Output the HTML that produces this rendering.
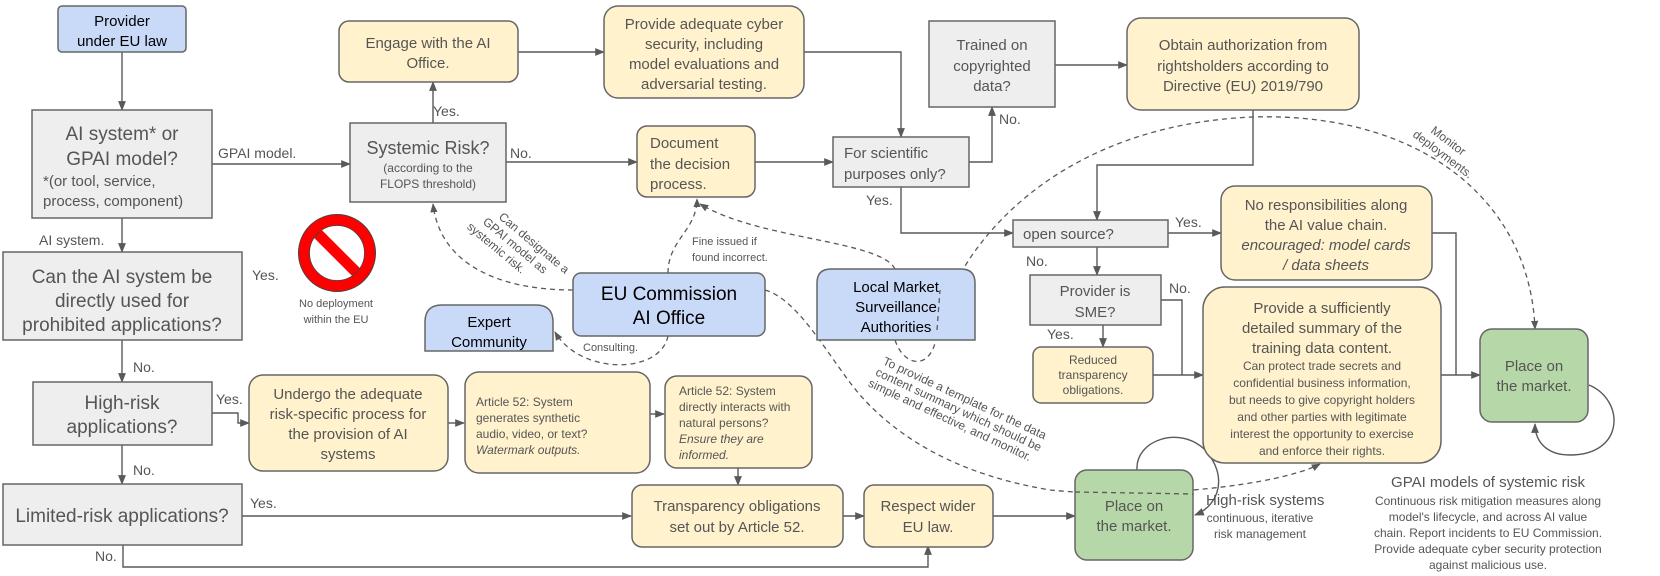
<!DOCTYPE html>
<html><head><meta charset="utf-8"><style>
html,body{margin:0;padding:0;background:#fff}
svg{display:block;font-family:"Liberation Sans",sans-serif}
.g{fill:#eeeeee;stroke:#666;stroke-width:1.5}
.y{fill:#fff2cc;stroke:#666;stroke-width:1.5}
.b{fill:#c9daf8;stroke:#666;stroke-width:1.5}
.gr{fill:#b6d7a8;stroke:#666;stroke-width:1.5}
.l{fill:none;stroke:#595959;stroke-width:1.4}
.d{fill:none;stroke:#595959;stroke-width:1.3;stroke-dasharray:5,4}
text{fill:#555}
.k{fill:#000}
</style></head><body>
<svg width="1660" height="576" viewBox="0 0 1660 576" xmlns="http://www.w3.org/2000/svg">
<defs><marker id="a" viewBox="0 0 10 10" refX="9" refY="5" markerWidth="7" markerHeight="7" orient="auto"><path d="M0,1 L10,5 L0,9 z" fill="#595959"/></marker></defs>

<!-- connectors -->
<g class="l" marker-end="url(#a)">
<path d="M122,52 V110"/>
<path d="M212,164 H350"/>
<path d="M122,218 V252"/>
<path d="M122,340 V382"/>
<path d="M122,445 V484"/>
<path d="M212,413 H238 V423 H249"/>
<path d="M448,423 H464"/>
<path d="M650,414 H664"/>
<path d="M738,468 V485"/>
<path d="M242,516 H631"/>
<path d="M123,545 V567 H928 V546"/>
<path d="M843,516 H864"/>
<path d="M993,516 H1075"/>
<path d="M433,123 V82"/>
<path d="M506,162 H637"/>
<path d="M518,52 H604"/>
<path d="M804,52 H901 V137"/>
<path d="M755,162 H833"/>
<path d="M969,162 H992 V107"/>
<path d="M901,187 V233 H1013"/>
<path d="M1253,110 V165 H1097 V220"/>
<path d="M1055,65 H1127"/>
<path d="M1168,233 H1221"/>
<path d="M1097,247 V275"/>
<path d="M1103,325 V347"/>
<path d="M1153,375 H1203"/>
<path d="M1441,375 H1480"/>
<path d="M1589,385 C1625,400 1625,455 1570,455 C1545,455 1535,440 1535,424"/>
<path d="M1137,470 C1135,440 1180,425 1205,450 C1228,475 1220,505 1195,515"/>
</g>
<g class="l">
<path d="M1161,300 H1182 V375"/>
<path d="M1432,233 H1456 V375"/>
</g>
<g class="d" marker-end="url(#a)">
<path d="M573,290 C500,290 440,265 433,204"/>
<path d="M668,273 C668,240 697,230 697,199"/>
<path d="M895,269 C880,240 760,240 700,204"/>
<path d="M668,336 C660,375 580,375 555,332"/>
<path d="M765,290 C800,300 830,360 860,395 C900,440 960,475 1050,490 C1150,500 1280,485 1320,464"/>
<path d="M895,340 C905,370 935,370 937,330 C960,240 1060,125 1253,117 C1420,112 1530,200 1535,329"/>
</g>

<!-- nodes -->
<rect class="b" x="58" y="6" width="128" height="46" rx="4"/>
<text class="k" font-size="15" text-anchor="middle"><tspan x="122" y="26">Provider</tspan><tspan x="122" y="46">under EU law</tspan></text>

<rect class="g" x="32" y="110" width="180" height="108"/>
<text font-size="19" text-anchor="middle"><tspan x="122" y="140">AI system* or</tspan><tspan x="122" y="165">GPAI model?</tspan></text>
<text font-size="15"><tspan x="43" y="186">*(or tool, service,</tspan><tspan x="43" y="206">process, component)</tspan></text>

<rect class="g" x="3" y="252" width="239" height="88"/>
<text font-size="19" text-anchor="middle"><tspan x="122" y="283">Can the AI system be</tspan><tspan x="122" y="307">directly used for</tspan><tspan x="122" y="331">prohibited applications?</tspan></text>

<rect class="g" x="33" y="382" width="179" height="63"/>
<text font-size="19" text-anchor="middle"><tspan x="122" y="409">High-risk</tspan><tspan x="122" y="433">applications?</tspan></text>

<rect class="g" x="3" y="484" width="239" height="61"/>
<text font-size="19" text-anchor="middle" x="122" y="522">Limited-risk applications?</text>

<rect class="y" x="339" y="21" width="179" height="61" rx="10"/>
<text font-size="15" text-anchor="middle"><tspan x="428" y="48">Engage with the AI</tspan><tspan x="428" y="68">Office.</tspan></text>

<rect class="g" x="350" y="123" width="156" height="79"/>
<text font-size="18" text-anchor="middle" x="428" y="154">Systemic Risk?</text>
<text font-size="12" text-anchor="middle"><tspan x="428" y="172">(according to the</tspan><tspan x="428" y="188">FLOPS threshold)</tspan></text>

<rect class="y" x="604" y="6" width="200" height="92" rx="14"/>
<text font-size="15" text-anchor="middle"><tspan x="704" y="29">Provide adequate cyber</tspan><tspan x="704" y="49">security, including</tspan><tspan x="704" y="69">model evaluations and</tspan><tspan x="704" y="89">adversarial testing.</tspan></text>

<rect class="y" x="637" y="126" width="118" height="71" rx="10"/>
<text font-size="15"><tspan x="650" y="148">Document</tspan><tspan x="650" y="169">the decision</tspan><tspan x="650" y="189">process.</tspan></text>

<rect class="g" x="833" y="137" width="136" height="50"/>
<text font-size="15"><tspan x="844" y="158">For scientific</tspan><tspan x="844" y="179">purposes only?</tspan></text>

<rect class="g" x="929" y="21" width="126" height="86"/>
<text font-size="15" text-anchor="middle"><tspan x="992" y="50">Trained on</tspan><tspan x="992" y="71">copyrighted</tspan><tspan x="992" y="91">data?</tspan></text>

<rect class="y" x="1127" y="18" width="232" height="92" rx="14"/>
<text font-size="15" text-anchor="middle"><tspan x="1243" y="50">Obtain authorization from</tspan><tspan x="1243" y="71">rightsholders according to</tspan><tspan x="1243" y="91">Directive (EU) 2019/790</tspan></text>

<rect class="g" x="1013" y="220" width="155" height="27"/>
<text font-size="15" x="1023" y="239">open source?</text>

<rect class="g" x="1030" y="275" width="131" height="50"/>
<text font-size="15" text-anchor="middle"><tspan x="1095" y="296">Provider is</tspan><tspan x="1095" y="317">SME?</tspan></text>

<rect class="y" x="1033" y="347" width="120" height="56" rx="8"/>
<text font-size="12" text-anchor="middle"><tspan x="1093" y="364">Reduced</tspan><tspan x="1093" y="379">transparency</tspan><tspan x="1093" y="394">obligations.</tspan></text>

<rect class="y" x="1221" y="186" width="211" height="94" rx="14"/>
<text font-size="15" text-anchor="middle"><tspan x="1326" y="210">No responsibilities along</tspan><tspan x="1326" y="230">the AI value chain.</tspan><tspan x="1326" y="250" font-style="italic">encouraged: model cards</tspan><tspan x="1326" y="270" font-style="italic">/ data sheets</tspan></text>

<rect class="y" x="1203" y="287" width="238" height="176" rx="22"/>
<text font-size="15" text-anchor="middle"><tspan x="1322" y="313">Provide a sufficiently</tspan><tspan x="1322" y="333">detailed summary of the</tspan><tspan x="1322" y="353">training data content.</tspan></text>
<text font-size="12" text-anchor="middle"><tspan x="1322" y="370">Can protect trade secrets and</tspan><tspan x="1322" y="387">confidential business information,</tspan><tspan x="1322" y="404">but needs to give copyright holders</tspan><tspan x="1322" y="421">and other parties with legitimate</tspan><tspan x="1322" y="438">interest the opportunity to exercise</tspan><tspan x="1322" y="455">and enforce their rights.</tspan></text>

<rect class="gr" x="1480" y="329" width="108" height="93" rx="12"/>
<text font-size="15" text-anchor="middle"><tspan x="1534" y="371">Place on</tspan><tspan x="1534" y="391">the market.</tspan></text>

<rect class="gr" x="1075" y="470" width="118" height="90" rx="12"/>
<text font-size="15" text-anchor="middle"><tspan x="1134" y="511">Place on</tspan><tspan x="1134" y="531">the market.</tspan></text>
<path class="d" d="M1075,492 L1193,494"/>

<rect class="b" x="573" y="273" width="192" height="63" rx="8"/>
<text class="k" font-size="19" text-anchor="middle"><tspan x="669" y="300">EU Commission</tspan><tspan x="669" y="324">AI Office</tspan></text>

<path class="b" d="M817,340 V283 Q817,269 831,269 H961 Q975,269 975,283 V340 Z"/>
<text class="k" font-size="15" text-anchor="middle"><tspan x="896" y="292">Local Market</tspan><tspan x="896" y="312">Surveillance</tspan><tspan x="896" y="332">Authorities</tspan></text>
<path class="d" d="M937,330 L940,290"/>

<path class="b" d="M425,351 V322 Q425,305 442,305 H536 Q553,305 553,322 V351 Z"/>
<text class="k" font-size="15" text-anchor="middle"><tspan x="489" y="327">Expert</tspan><tspan x="489" y="347">Community</tspan></text>

<rect class="y" x="249" y="375" width="199" height="96" rx="14"/>
<text font-size="15" text-anchor="middle"><tspan x="348" y="399">Undergo the adequate</tspan><tspan x="348" y="419">risk-specific process for</tspan><tspan x="348" y="439">the provision of AI</tspan><tspan x="348" y="459">systems</tspan></text>

<rect class="y" x="465" y="372" width="185" height="101" rx="14"/>
<text font-size="12"><tspan x="476" y="406">Article 52: System</tspan><tspan x="476" y="422">generates synthetic</tspan><tspan x="476" y="438">audio, video, or text?</tspan><tspan x="476" y="454" font-style="italic">Watermark outputs.</tspan></text>

<rect class="y" x="665" y="376" width="147" height="92" rx="12"/>
<text font-size="12"><tspan x="679" y="395">Article 52: System</tspan><tspan x="679" y="411">directly interacts with</tspan><tspan x="679" y="427">natural persons?</tspan><tspan x="679" y="443" font-style="italic">Ensure they are</tspan><tspan x="679" y="459" font-style="italic">informed.</tspan></text>

<rect class="y" x="632" y="485" width="211" height="62" rx="10"/>
<text font-size="15" text-anchor="middle"><tspan x="737" y="511">Transparency obligations</tspan><tspan x="737" y="532">set out by Article 52.</tspan></text>

<rect class="y" x="864" y="485" width="129" height="62" rx="10"/>
<text font-size="15" text-anchor="middle"><tspan x="928" y="511">Respect wider</tspan><tspan x="928" y="532">EU law.</tspan></text>

<!-- stop sign -->
<circle cx="337" cy="253" r="33" fill="none" stroke="#f00" stroke-width="11"/>
<line x1="314" y1="230" x2="360" y2="276" stroke="#f00" stroke-width="11"/>
<circle cx="337" cy="253" r="38.5" fill="none" stroke="#444" stroke-width="1"/>
<circle cx="337" cy="253" r="27.5" fill="none" stroke="#444" stroke-width="0.8"/>
<text font-size="11" text-anchor="middle"><tspan x="336" y="307">No deployment</tspan><tspan x="336" y="323">within the EU</tspan></text>

<!-- labels -->
<g font-size="14">
<text x="218" y="158">GPAI model.</text>
<text x="39" y="245">AI system.</text>
<text x="252" y="280">Yes.</text>
<text x="133" y="372">No.</text>
<text x="216" y="404">Yes.</text>
<text x="133" y="475">No.</text>
<text x="250" y="508">Yes.</text>
<text x="95" y="561">No.</text>
<text x="433" y="116">Yes.</text>
<text x="510" y="158">No.</text>
<text x="866" y="205">Yes.</text>
<text x="999" y="124">No.</text>
<text x="1175" y="227">Yes.</text>
<text x="1026" y="266">No.</text>
<text x="1047" y="339">Yes.</text>
<text x="1169" y="293">No.</text>
</g>
<g font-size="11">
<text><tspan x="692" y="245">Fine issued if</tspan><tspan x="692" y="261">found incorrect.</tspan></text>
<text x="583" y="351">Consulting.</text>
<text transform="translate(498,218) rotate(40)" font-size="12"><tspan x="0" y="0">Can designate a</tspan><tspan x="-9" y="14">GPAI model as</tspan><tspan x="-18" y="28">systemic risk.</tspan></text>
<text transform="translate(1430,132) rotate(37)" font-size="12"><tspan x="0" y="0">Monitor</tspan><tspan x="-12" y="14">deployments.</tspan></text>
<text transform="translate(882,364) rotate(25)" font-size="12"><tspan x="0" y="0">To provide a template for the data</tspan><tspan x="-2" y="13">content summary which should be</tspan><tspan x="-4" y="26">simple and effective, and monitor.</tspan></text>
</g>
<text font-size="15" x="1206" y="505">High-risk systems</text>
<text font-size="12" text-anchor="middle"><tspan x="1260" y="522">continuous, iterative</tspan><tspan x="1260" y="538">risk management</tspan></text>
<text font-size="15" text-anchor="middle" x="1488" y="487">GPAI models of systemic risk</text>
<text font-size="12" text-anchor="middle"><tspan x="1488" y="505">Continuous risk mitigation measures along</tspan><tspan x="1488" y="521">model's lifecycle, and across AI value</tspan><tspan x="1488" y="537">chain. Report incidents to EU Commission.</tspan><tspan x="1488" y="553">Provide adequate cyber security protection</tspan><tspan x="1488" y="569">against malicious use.</tspan></text>
</svg>
</body></html>
